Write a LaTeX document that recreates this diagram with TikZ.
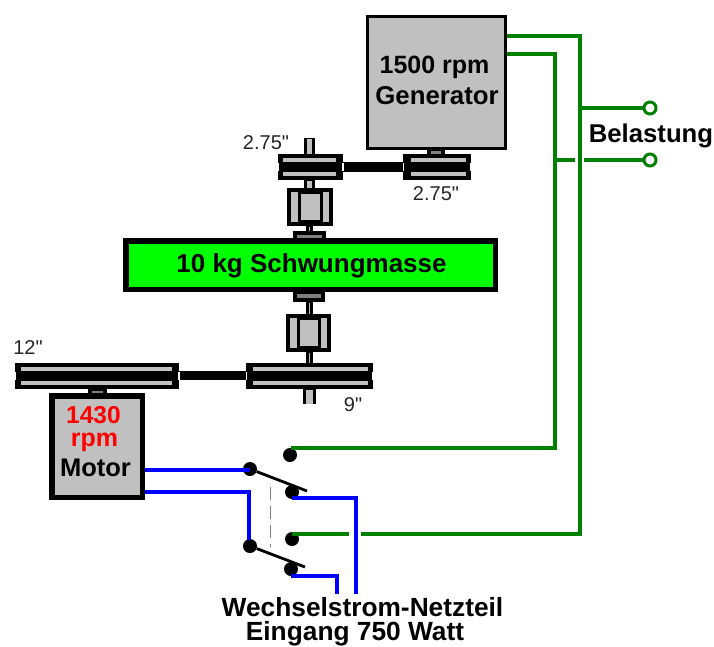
\documentclass[tikz,border=0pt]{standalone}
\usepackage{fontspec}
\setmainfont{Liberation Sans}
\newfontfamily\plainf{Liberation Sans}
\definecolor{gy}{HTML}{C0C0C0}
\definecolor{dg}{HTML}{808080}
\definecolor{gr}{HTML}{008000}
\definecolor{gf}{HTML}{00FF00}
\definecolor{bl}{HTML}{0000FF}
\newcommand{\fs}[1]{\fontsize{#1}{#1}\selectfont}
\tikzset{
  box/.style={draw=black,line width=5.5pt,fill=#1,inner sep=0pt},
  wg/.style={draw=gr,line width=3.2pt,line join=miter},
  wb/.style={draw=bl,line width=3.2pt,line join=miter},
  dot/.style={circle,fill=black,minimum size=14pt,inner sep=0pt},
  term/.style={circle,draw=gr,line width=3pt,fill=white,minimum size=12pt,inner sep=0pt},
  arm/.style={draw=black,line width=2.8pt},
  lab/.style={font=\plainf\fs{20},text=black!85,inner sep=0pt,anchor=base},
  blab/.style={font=\bfseries\fs{#1},text=black,inner sep=0pt,anchor=base}
}
% pulley: x1,x2,y1, strip inset left, strip inset right
\newcommand{\pulley}[5]{%
  \fill[black] (#1,#3) rectangle (#2,#3+26);
  \fill[white] (#1-.5,#3+9) rectangle (#1+1.2,#3+17);
  \fill[white] (#2-1.2,#3+9) rectangle (#2+.5,#3+17);
  \fill[gy] (#1+#4,#3+4) rectangle (#2-#5,#3+8);
  \fill[gy] (#1+#4,#3+18) rectangle (#2-#5,#3+22);
}
% vertical shaft
\newcommand{\shaft}[4]{%
  \fill[black] (#1,#3) rectangle (#2,#4);
  \fill[gy] (#1+3,#3+.5) rectangle (#2-3,#4-.5);
}
% bearing
\newcommand{\bearing}[6]{%
  \fill[black] (#1,#3) rectangle (#2,#4);
  \fill[dg] (#1+4,#5) rectangle (#2-4,#6);
}
% coupling x1,x2,y1,y2
\newcommand{\coupling}[4]{%
  \fill[black] (#1,#3) rectangle (#2,#4);
  \fill[gy] (#1+4,#3+4) rectangle (#1+10.5,#4-4);
  \fill[gy] (#1+13.5,#3+6) rectangle (#2-13.5,#4-6);
  \fill[gy] (#2-10.5,#3+4) rectangle (#2-4,#4-4);
}
\begin{document}
\begin{tikzpicture}[x=1pt,y=-1pt]
\useasboundingbox (0,0) rectangle (714,646);
\fill[white] (0,0) rectangle (714,646);

% green wiring
\coordinate (g1) at (505,36); \coordinate (g1c) at (580,36); \coordinate (g1e) at (580,534);
\coordinate (g2) at (505,54); \coordinate (g2c) at (555,54); \coordinate (g2e) at (555,448);
\coordinate (g3a) at (349,534); \coordinate (g3b) at (361,534);
\coordinate (j1) at (580,108); \coordinate (j2) at (555,160);
\coordinate (j2a) at (575,160); \coordinate (j2b) at (584,160);
\node[term] (t1) at (650,108) {};
\node[term] (t2) at (650,160) {};
\node[dot] (s1) at (290,455) {};
\node[dot] (s2) at (250,469) {};
\node[dot] (s3) at (292,492) {};
\node[dot] (s4) at (292,539) {};
\node[dot] (s5) at (250,546) {};
\node[dot] (s6) at (291,569) {};
\coordinate (a1) at (307,491); \coordinate (a2) at (305,567);

\draw[wg] (g1) -- (g1c) -- (g1e) -- (g3b);
\draw[wg] (g3a) -- (292,534);
\draw[wg] (g2) -- (g2c) -- (g2e) -- (291,448);
\draw[wg] (j1) -- (t1);
\draw[wg] (j2) -- (j2a);
\draw[wg] (j2b) -- (t2);

% blue wiring
\coordinate (m1) at (145,470); \coordinate (m2) at (145,492);
\coordinate (n1) at (356,594); \coordinate (n2) at (337,594);
\draw[wb] (m1) -- (250,470);
\draw[wb] (m2) -- (249,492) -- (249,540);
\draw[wb] (292,498) -- (356,498) -- (n1);
\draw[wb] (291,576) -- (337,576) -- (n2);

% switch
\draw[arm] (s2) -- (a1);
\draw[arm] (s5) -- (a2);
\draw[dg,line width=1pt,dash pattern=on 13pt off 6pt] (270,487) -- (270,547);

% generator
\node[box=gy,line width=3pt,minimum width=138pt,minimum height=132pt] (gen) at (436.5,82.5) {};
\node[blab=25] at (434.5,73) {1500 rpm};
\node[blab=25.8] at (437,104) {Generator};

% top drive
\fill[black] (340,162) rectangle (406,172);
\bearing{427}{445}{149}{154}{151}{153.5}
\pulley{403}{471}{154}{8}{5}
\pulley{278}{343}{154}{5}{7}
\shaft{304}{315}{138}{154}
\shaft{304}{315}{180}{189}
\coupling{287}{333}{188}{226}
\shaft{306}{313}{226}{232}
\bearing{293}{326}{231}{239}{234.5}{238}

% flywheel
\node[box=gf,minimum width=369.5pt,minimum height=48.5pt] (fly) at (310.5,265) {};
\node[blab=26] at (311.5,272) {10 kg Schwungmasse};

% lower drive
\bearing{293}{325}{291}{302}{294}{298}
\shaft{306}{313}{302}{315}
\coupling{286}{331}{314}{352}
\shaft{306}{313}{352}{364}
\fill[black] (176,371) rectangle (250,380);
\pulley{15}{179}{363}{6}{7}
\pulley{246}{373}{363}{7}{5}
\shaft{303}{316}{389}{404}
\bearing{88}{107}{389}{395}{391}{394}
\node[box=gy,minimum width=90.5pt,minimum height=101.5pt] (mot) at (97,446.5) {};
\node[blab=24.5,text=red] at (93.5,423) {1430};
\node[blab=25,text=red] at (94.5,446) {rpm};
\node[blab=25.5] at (95.5,476) {Motor};

% labels
\node[lab] at (266,149) {2.75"};
\node[lab] at (436,200) {2.75"};
\node[lab] at (28,354) {12"};
\node[lab] at (353,411) {9"};
\node[blab=25.7] at (651,142) {Belastung};
\node[blab=26.3] at (362.5,616) {Wechselstrom-Netzteil};
\node[blab=26.3] at (355,640) {Eingang 750 Watt};
\end{tikzpicture}
\end{document}
